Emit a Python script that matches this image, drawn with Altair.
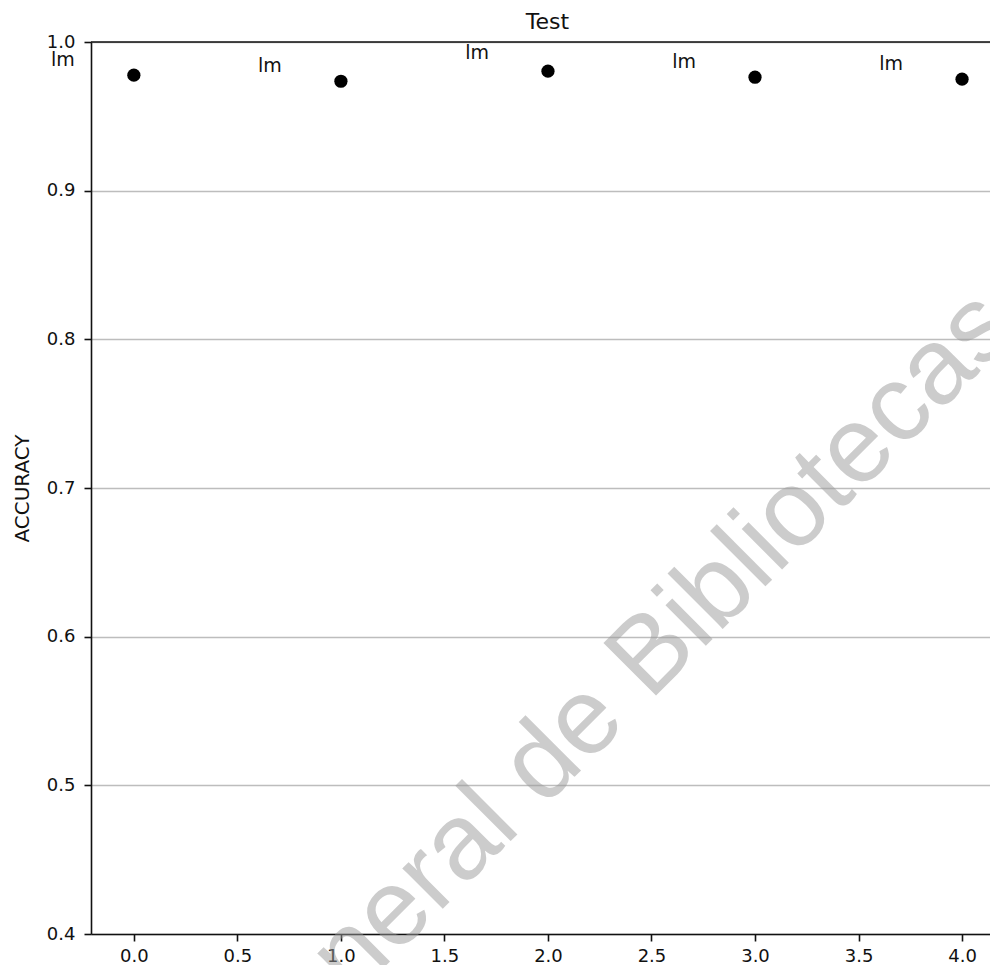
import altair as alt
import pandas as pd

# --- data ---
run_index = [0, 1, 2, 3, 4]
accuracy = [0.9777, 0.9736, 0.9804, 0.9763, 0.9750]

label_x = [-0.4, 0.6, 1.6, 2.6, 3.6]
label_y = [0.9837, 0.9797, 0.9884, 0.9824, 0.9810]
label_text = ["lm", "lm", "lm", "lm", "lm"]

x_ticks = [0.0, 0.5, 1.0, 1.5, 2.0, 2.5, 3.0, 3.5, 4.0]
y_ticks = [0.4, 0.5, 0.6, 0.7, 0.8, 0.9, 1.0]
x_domain = [-0.207, 4.135]
y_domain = [0.4, 1.0]

watermark_text = ["Dirección General de Bibliotecas"]
watermark_x = [1.60]
watermark_y = [0.432]

pts = pd.DataFrame({"x": run_index, "acc": accuracy})
labs = pd.DataFrame({"x": label_x, "acc": label_y, "t": label_text})
wm = pd.DataFrame({"x": watermark_x, "acc": watermark_y, "t": watermark_text})
top = pd.DataFrame({"acc": [y_domain[1]]})

xs = alt.Scale(domain=x_domain, nice=False, zero=False)
ys = alt.Scale(domain=y_domain, nice=False, zero=False)
x_axis = alt.Axis(values=x_ticks, format=".1f", grid=False)
y_axis = alt.Axis(values=y_ticks, format=".1f", grid=True)

X = lambda: alt.X("x:Q", scale=xs, axis=x_axis, title=None)
Y = lambda: alt.Y("acc:Q", scale=ys, axis=y_axis, title="ACCURACY")

points = alt.Chart(pts).mark_circle(size=175, color="black", opacity=1).encode(x=X(), y=Y())

labels = alt.Chart(labs).mark_text(
    align="left", baseline="alphabetic", font="DejaVu Sans", fontSize=19, color="#111"
).encode(x=X(), y=Y(), text="t:N")

top_spine = alt.Chart(top).mark_rule(color="#111", strokeWidth=1.6).encode(y=Y())

watermark = alt.Chart(wm).mark_text(
    align="center", baseline="alphabetic", angle=315, font="Liberation Sans",
    fontSize=108, color="#9a9a9a", opacity=0.5
).encode(x=X(), y=Y(), text="t:N")

chart = alt.layer(points, labels, top_spine, watermark).properties(
    width=899,
    height=892,
    autosize=alt.AutoSizeParams(type="none"),
    padding={"left": 83, "top": 34, "right": 0, "bottom": 31},
    title=alt.TitleParams("Test", font="DejaVu Sans", fontSize=22, fontWeight="normal",
                          color="#111", offset=-1, dx=7, anchor="middle", frame="group"),
).configure_view(strokeWidth=0).configure_axis(
    labelFont="DejaVu Sans", labelFontSize=18, labelColor="#111",
    tickColor="#111", tickSize=7, tickWidth=1.6,
    domainColor="#111", domainWidth=1.6,
    titleFont="DejaVu Sans", titleFontSize=20, titleColor="#111", titleFontWeight="normal",
    gridColor="#bdbdbd", gridWidth=1.6, labelFlush=False, labelOverlap=False,
).configure_axisY(labelPadding=9, titlePadding=14).configure_axisX(labelPadding=6)

chart.save("out.html", embed_options={"renderer": "svg", "actions": False})
